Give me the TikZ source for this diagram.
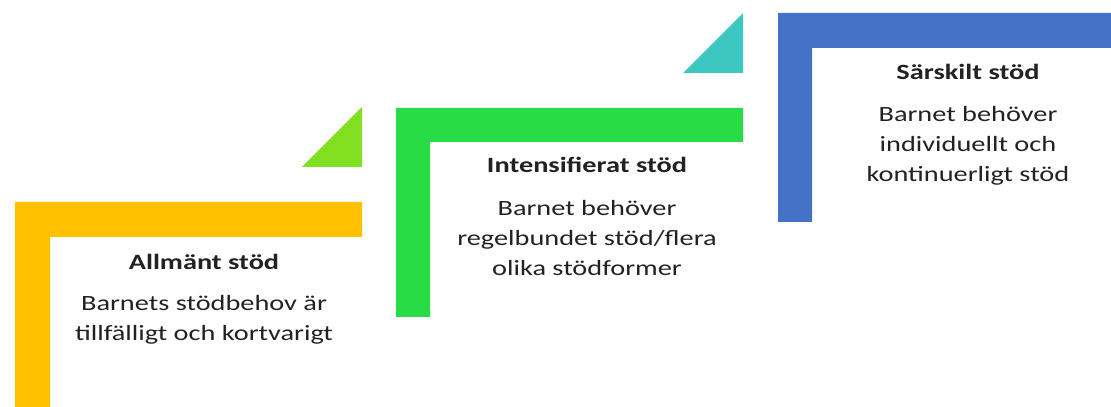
\documentclass[tikz,border=0pt]{standalone}
\usepackage{fontspec}
\setmainfont{Carlito}
\usetikzlibrary{positioning}

\definecolor{stodyellow}{HTML}{FFC000}
\definecolor{stodgreen}{HTML}{28DC46}
\definecolor{stodlime}{HTML}{82E022}
\definecolor{stodteal}{HTML}{3CC8C0}
\definecolor{stodblue}{HTML}{4472C4}
\definecolor{stodtext}{HTML}{222222}

\begin{document}
\begin{tikzpicture}[x=0.025cm,y=0.025cm]
          \tikzstyle{heading}=[font=\bfseries\fontsize{15.5}{18}\selectfont,text=stodtext,xscale=1.3,transform shape]
          \tikzstyle{body}=[font=\fontsize{15.5}{21.3}\selectfont,text=stodtext,align=center,xscale=1.3,transform shape]
          \useasboundingbox (0,0) rectangle (1111,407);

          % steps
          \fill[stodyellow] (15,0) -- (15,205) -- (362,205) -- (362,170) -- (50,170) -- (50,0) -- cycle;
          \fill[stodlime]   (302,240) -- (362,240) -- (362,300) -- cycle;
          \fill[stodgreen]  (396,90) -- (396,299) -- (743,299) -- (743,265) -- (430,265) -- (430,90) -- cycle;
          \fill[stodteal]   (683,334) -- (743,334) -- (743,394) -- cycle;
          \fill[stodblue]   (778,185) -- (778,394) -- (1111,394) -- (1111,359) -- (812,359) -- (812,185) -- cycle;

          % texts
          \node[heading] (allm)  at (204,145) {Allmänt stöd};
          \node[body]    (allmb) at (204,87)  {Barnets stödbehov är\\tillfälligt och kortvarigt};
          \node[heading] (int)   at (587,242) {Intensifierat stöd};
          \node[body]    (intb)  at (587,169) {Barnet behöver\\regelbundet stöd/flera\\olika stödformer};
          \node[heading] (sar)   at (968,335) {Särskilt stöd};
          \node[body]    (sarb)  at (968,261) {Barnet behöver\\individuellt och\\kontinuerligt stöd};
        \end{tikzpicture}
\end{document}
